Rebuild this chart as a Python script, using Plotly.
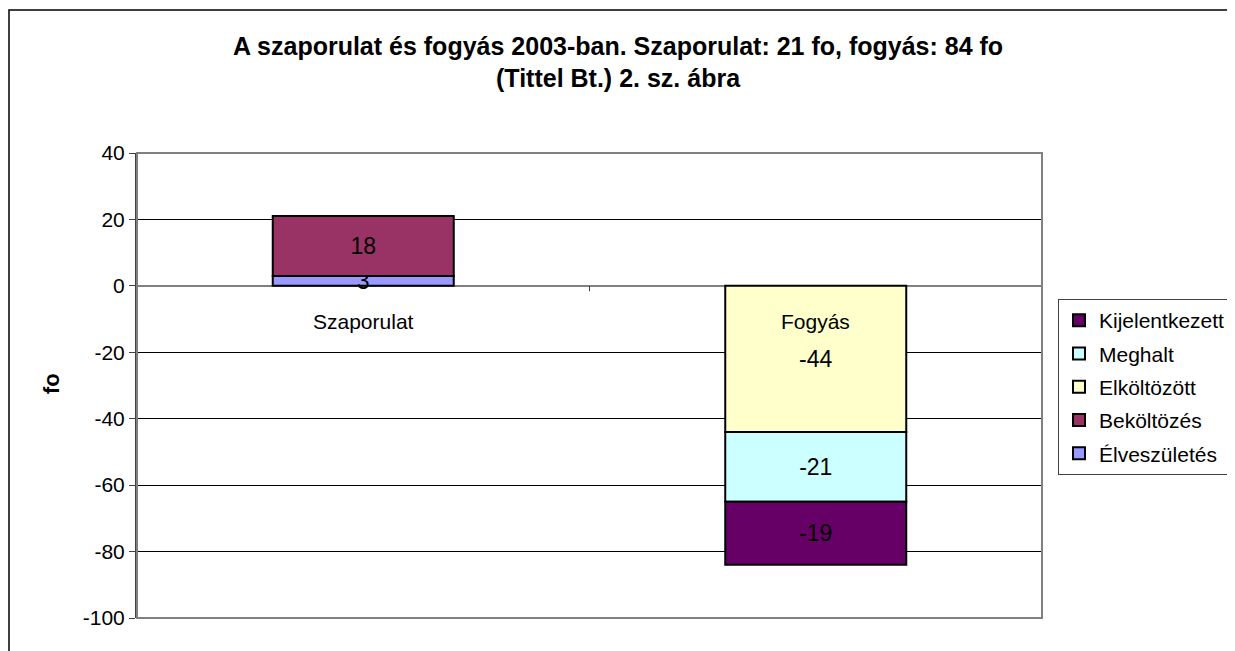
import plotly.graph_objects as go

categories = ["Szaporulat", "Fogyás"]
series_names = ["Élveszületés", "Beköltözés", "Elköltözött", "Meghalt", "Kijelentkezett"]
elveszuletes = [3, None]
bekoltozes = [18, None]
elkoltozott = [None, -44]
meghalt = [None, -21]
kijelentkezett = [None, -19]
colors = ["#9999FF", "#993366", "#FFFFCC", "#CCFFFF", "#660066"]
y_ticks = [-100, -80, -60, -40, -20, 0, 20, 40]

values = [elveszuletes, bekoltozes, elkoltozott, meghalt, kijelentkezett]
FONT = "Arial, Liberation Sans, sans-serif"

# plot area in page pixels (page has an 8px body margin)
PL, PT, PR, PB = 137, 153, 1042, 618
PW, PH = PR - PL, PB - PT
OFF = 8
W, H = 1235, 651


def px(x):
    return (x - PL) / PW


def py(y):
    return (PB - y) / PH


fig = go.Figure()
n = len(series_names)
for i, (name, vals, col) in enumerate(zip(series_names, values, colors)):
    fig.add_trace(go.Bar(
        x=categories, y=vals, name=name, legendgroup=name,
        legendrank=1000 + (n - i),
        marker=dict(color=col, line=dict(color="black", width=2)),
        width=0.4,
        text=[("" if v is None else str(v)) for v in vals],
        textposition="inside", insidetextanchor="middle",
        constraintext="none", textangle=0,
        textfont=dict(family=FONT, size=23, color="black"),
        hoverinfo="skip",
    ))

# category labels below the zero line
for c in categories:
    fig.add_annotation(x=c, y=0, xref="x", yref="y", text=c, showarrow=False,
                       yanchor="top", yshift=-22,
                       font=dict(family=FONT, size=21, color="black"))

# title
fig.add_annotation(xref="paper", yref="paper", x=px(618), y=py(46),
                   text="<b>A szaporulat és fogyás 2003-ban. Szaporulat: 21 fo, fogyás: 84 fo</b>",
                   showarrow=False, xanchor="center", yanchor="middle",
                   font=dict(family=FONT, size=25, color="black"))
fig.add_annotation(xref="paper", yref="paper", x=px(618), y=py(78),
                   text="<b>(Tittel Bt.) 2. sz. ábra</b>",
                   showarrow=False, xanchor="center", yanchor="middle",
                   font=dict(family=FONT, size=25, color="black"))
# y axis title
fig.add_annotation(xref="paper", yref="paper", x=px(51), y=py(384),
                   text="<b>fo</b>", textangle=-90, showarrow=False,
                   xanchor="center", yanchor="middle",
                   font=dict(family=FONT, size=22, color="black"))

# plot area border (gray)
fig.add_shape(type="rect", xref="paper", yref="paper", x0=0, x1=1, y0=0, y1=1,
              line=dict(color="#808080", width=2), layer="above")
# outer chart border
fig.add_shape(type="rect", xref="paper", yref="paper",
              x0=px(9), x1=px(1233), y0=py(700), y1=py(10),
              line=dict(color="black", width=1.5))
# category boundary tick on zero line
fig.add_shape(type="line", xref="x", yref="y", x0=0.5, x1=0.5, y0=0, y1=-1.6,
              line=dict(color="#404040", width=1))

fig.update_layout(
    width=W, height=H,
    margin=dict(l=PL - OFF, r=W - (PR - OFF), t=PT - OFF, b=H - (PB - OFF)),
    paper_bgcolor="white", plot_bgcolor="white",
    barmode="relative",
    showlegend=True,
    legend=dict(xref="container", yref="container",
                x=(1058 - OFF) / W, y=1 - (299 - OFF) / H,
                xanchor="left", yanchor="top",
                traceorder="grouped", tracegroupgap=3,
                bordercolor="#404040", borderwidth=1, bgcolor="white",
                font=dict(family=FONT, size=21, color="black"),
                itemwidth=30),
    xaxis=dict(showticklabels=False, showgrid=False, zeroline=False, showline=False,
               ticks="", range=[-0.5, 1.5]),
    yaxis=dict(range=[-100, 40], tickvals=y_ticks, ticktext=[str(v) for v in y_ticks],
               showgrid=True, gridcolor="black", gridwidth=1,
               zeroline=True, zerolinecolor="#808080", zerolinewidth=2,
               showline=True, linecolor="#404040", linewidth=2,
               ticks="outside", ticklen=6, tickcolor="#404040", tickwidth=1,
               tickfont=dict(family=FONT, size=21, color="black")),
    font=dict(family=FONT, color="black"),
)

fig.write_html("out.html")
